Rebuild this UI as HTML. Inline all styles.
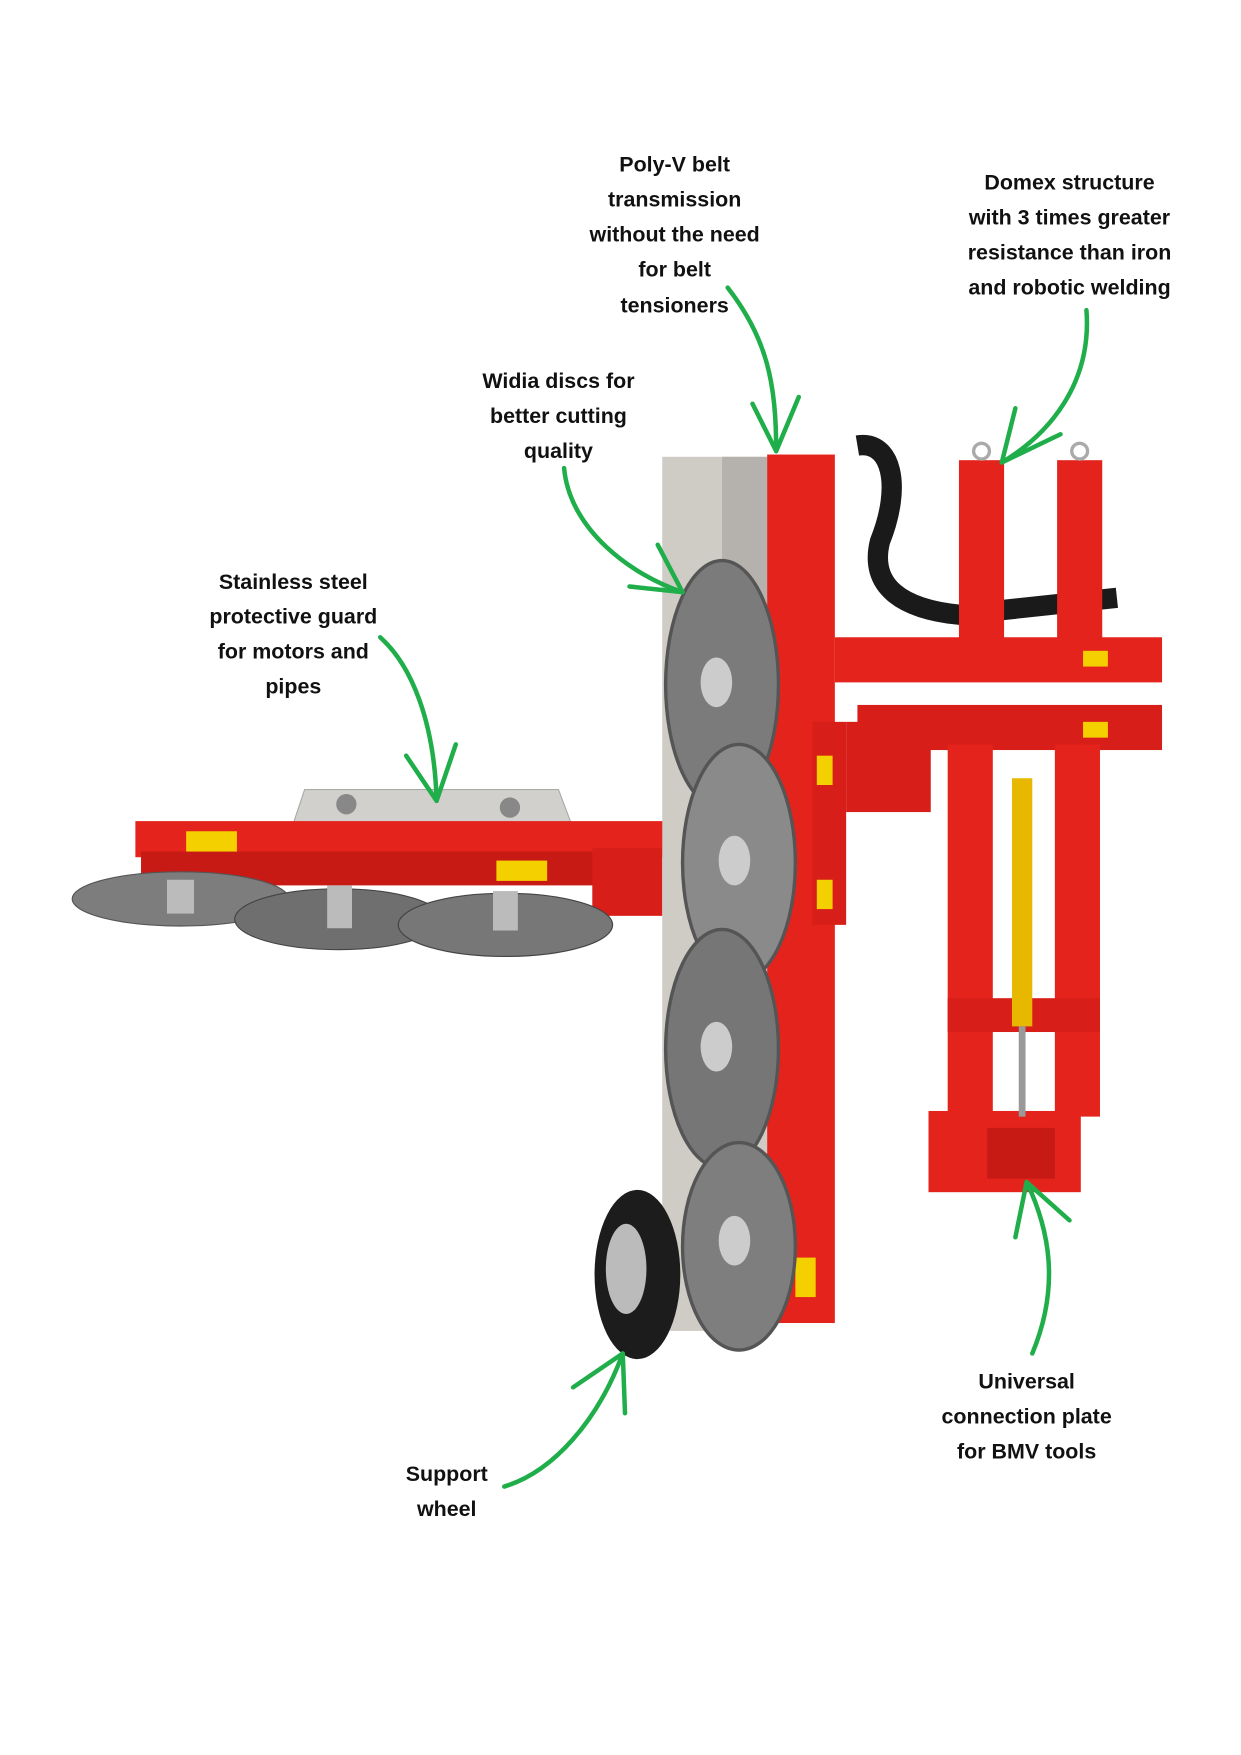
<!DOCTYPE html>
<html><head><meta charset="utf-8"><style>
html,body{margin:0;padding:0;background:#fff;width:1241px;height:1755px;overflow:hidden}
svg{display:block}
text{font-family:"Liberation Sans",sans-serif;font-weight:bold;font-size:19px;fill:#111;text-anchor:middle}
</style></head><body>
<svg width="1241" height="1755" viewBox="0 0 1100 1556" preserveAspectRatio="none">
<!-- horizontal arm -->
<polygon points="255,745 270,700 495,700 512,745" fill="#d2d0cc" stroke="#aaa"/>
<rect x="120" y="728" width="470" height="32" fill="#e3231c"/>
<rect x="125" y="755" width="455" height="30" fill="#c81a15"/>
<rect x="525" y="752" width="62" height="60" fill="#d81e18"/>
<rect x="165" y="737" width="45" height="18" fill="#f5d000"/>
<rect x="440" y="763" width="45" height="18" fill="#f5d000"/>
<circle cx="307" cy="713" r="9" fill="#888"/><circle cx="452" cy="716" r="9" fill="#888"/>
<ellipse cx="160" cy="797" rx="96" ry="24" fill="#7d7d7d" stroke="#555"/>
<ellipse cx="300" cy="815" rx="92" ry="27" fill="#6f6f6f" stroke="#444"/>
<ellipse cx="448" cy="820" rx="95" ry="28" fill="#777" stroke="#444"/>
<rect x="148" y="780" width="24" height="30" fill="#bbb"/><rect x="290" y="785" width="22" height="38" fill="#bbb"/><rect x="437" y="790" width="22" height="35" fill="#bbb"/>
<!-- hoses -->
<path d="M760,395 C790,390 800,430 780,480 C770,520 800,540 850,545 L990,530" stroke="#1a1a1a" stroke-width="18" fill="none"/>
<!-- right frame -->
<rect x="850" y="408" width="40" height="160" fill="#e3231c"/>
<rect x="937" y="408" width="40" height="160" fill="#e3231c"/>
<circle cx="870" cy="400" r="7" fill="none" stroke="#aaa" stroke-width="3"/><circle cx="957" cy="400" r="7" fill="none" stroke="#aaa" stroke-width="3"/>
<rect x="740" y="565" width="290" height="40" fill="#e3231c"/>
<rect x="760" y="625" width="270" height="40" fill="#d81e18"/>
<rect x="750" y="640" width="75" height="80" fill="#d81e18"/>
<rect x="840" y="660" width="40" height="395" fill="#e3231c"/>
<rect x="935" y="660" width="40" height="330" fill="#e3231c"/>
<rect x="840" y="885" width="135" height="30" fill="#d81e18"/>
<rect x="823" y="985" width="135" height="72" fill="#e3231c"/>
<rect x="875" y="1000" width="60" height="45" fill="#c81a15"/>
<rect x="897" y="690" width="18" height="220" fill="#e8b800"/>
<rect x="903" y="910" width="6" height="80" fill="#999"/>
<rect x="960" y="577" width="22" height="14" fill="#f5d000"/><rect x="960" y="640" width="22" height="14" fill="#f5d000"/>
<!-- guard plate -->
<rect x="587" y="405" width="93" height="775" fill="#cfccc6"/>
<rect x="640" y="405" width="40" height="150" fill="#b5b2ad"/>
<!-- main beam -->
<rect x="680" y="403" width="60" height="770" fill="#e3231c"/>
<rect x="720" y="640" width="30" height="180" fill="#d81e18"/>
<rect x="724" y="670" width="14" height="26" fill="#f5d000"/><rect x="724" y="780" width="14" height="26" fill="#f5d000"/>
<rect x="705" y="1115" width="18" height="35" fill="#f5d000"/>
<!-- blades -->
<ellipse cx="640" cy="607" rx="50" ry="110" fill="#7b7b7b" stroke="#555" stroke-width="3"/>
<ellipse cx="655" cy="765" rx="50" ry="105" fill="#8a8a8a" stroke="#555" stroke-width="3"/>
<ellipse cx="640" cy="930" rx="50" ry="106" fill="#767676" stroke="#555" stroke-width="3"/>
<ellipse cx="655" cy="1105" rx="50" ry="92" fill="#7e7e7e" stroke="#555" stroke-width="3"/>
<ellipse cx="635" cy="605" rx="14" ry="22" fill="#ccc"/><ellipse cx="651" cy="763" rx="14" ry="22" fill="#ccc"/>
<ellipse cx="635" cy="928" rx="14" ry="22" fill="#ccc"/><ellipse cx="651" cy="1100" rx="14" ry="22" fill="#ccc"/>
<!-- wheel -->
<ellipse cx="565" cy="1130" rx="38" ry="75" fill="#1c1c1c"/>
<ellipse cx="555" cy="1125" rx="18" ry="40" fill="#bbb"/>
<!-- labels -->
<text x="598" y="152">Poly-V belt</text><text x="598" y="183">transmission</text><text x="598" y="214">without the need</text><text x="598" y="245">for belt</text><text x="598" y="277">tensioners</text>
<text x="948" y="168">Domex structure</text><text x="948" y="199">with 3 times greater</text><text x="948" y="230">resistance than iron</text><text x="948" y="261">and robotic welding</text>
<text x="495" y="344">Widia discs for</text><text x="495" y="375">better cutting</text><text x="495" y="406">quality</text>
<text x="260" y="522">Stainless steel</text><text x="260" y="553">protective guard</text><text x="260" y="584">for motors and</text><text x="260" y="615">pipes</text>
<text x="910" y="1231">Universal</text><text x="910" y="1262">connection plate</text><text x="910" y="1293">for BMV tools</text>
<text x="396" y="1313">Support</text><text x="396" y="1344">wheel</text>
<!-- arrows -->
<g stroke="#1fae4a" stroke-width="4" fill="none" stroke-linecap="round">
<path d="M645,255 C680,300 688,340 688,400"/><path d="M688,400 L667,358 M688,400 L708,352"/>
<path d="M963,275 C968,340 930,385 888,410"/><path d="M888,410 L900,362 M888,410 L940,385"/>
<path d="M500,415 C505,470 560,510 605,525"/><path d="M605,525 L583,483 M605,525 L558,520"/>
<path d="M337,565 C365,590 385,640 387,710"/><path d="M387,710 L360,670 M387,710 L404,660"/>
<path d="M915,1200 C940,1140 930,1090 910,1048"/><path d="M910,1048 L900,1097 M910,1048 L948,1082"/>
<path d="M447,1318 C490,1305 530,1260 552,1200"/><path d="M552,1200 L508,1230 M552,1200 L554,1253"/>
</g>
</svg>
</body></html>
